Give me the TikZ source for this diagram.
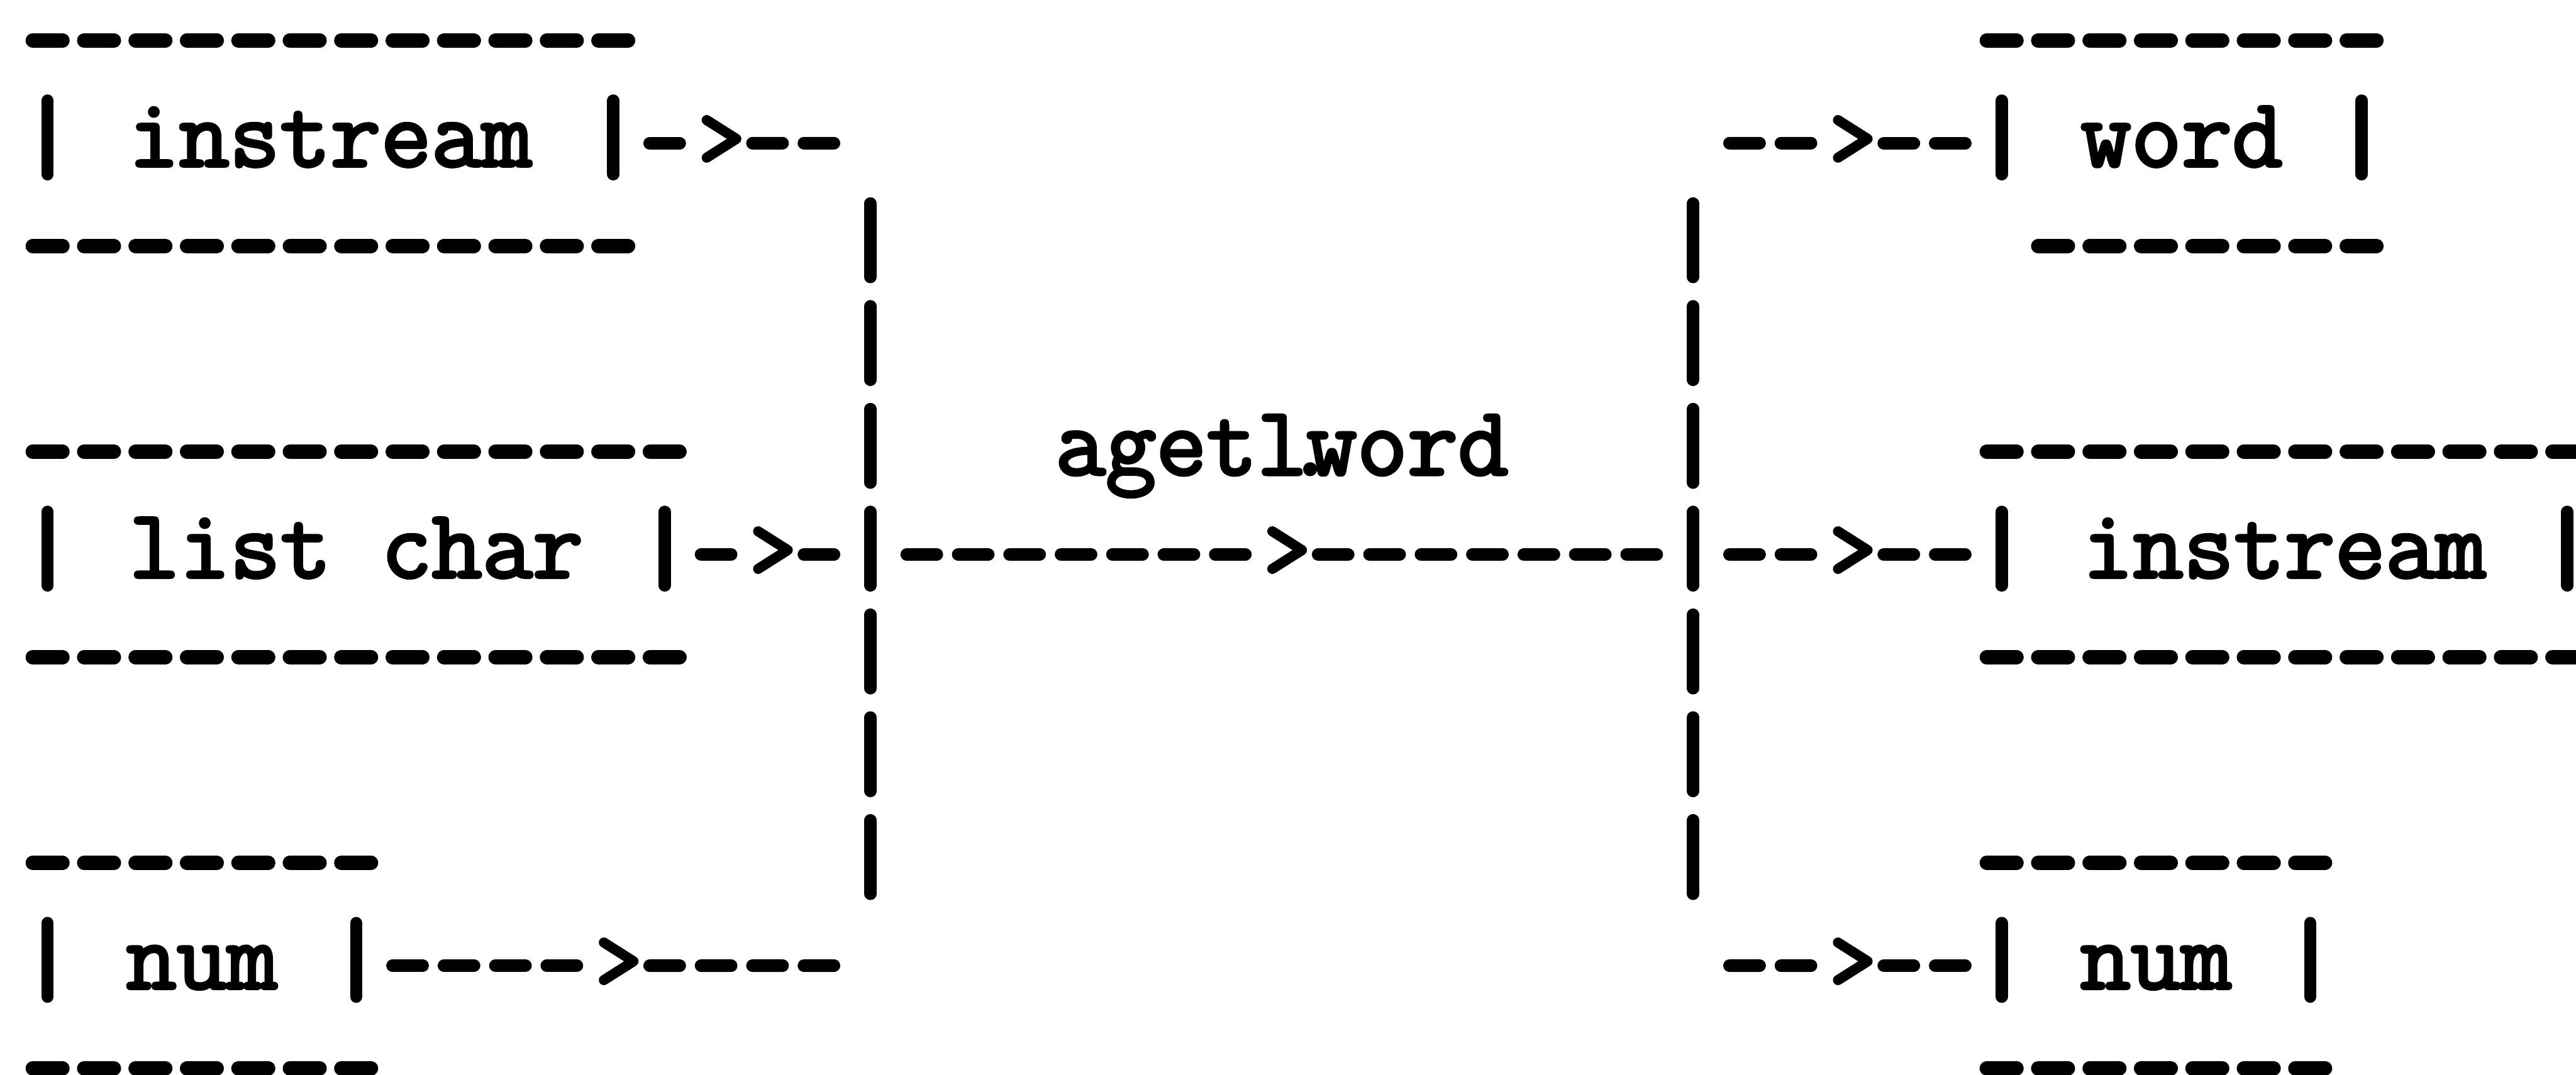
\documentclass[tikz,border=0pt]{standalone}
\usepackage{fontspec}
\usepackage{tikz}
\newfontfamily\boxfont[FakeBold=3]{Latin Modern Mono}

\tikzset{
  asciibox/.style={font=\boxfont\fontsize{27.1pt}{30pt}\selectfont, inner sep=0pt, outer sep=0pt,
    minimum height=2cm, text height=.45cm, text depth=0pt},
  border/.style={line width=3.9pt, line cap=round, dash pattern=on .292cm off .208cm,
    shorten <=-.146cm, shorten >=-.146cm},
  wire/.style={line width=3.5pt, line cap=round, dash pattern=on .292cm off .208cm,
    shorten <=.354cm, shorten >=.354cm},
  vbar/.pic={\draw[line width=3.4pt, line cap=round] (0pt,11.8pt) -- (0pt,-8.6pt);},
  chev/.pic={\draw[line width=2.8pt, line cap=round, line join=round] (-2.6pt,6.4pt) -- (5.6pt,1.2pt) -- (-2.6pt,-4pt);}
}

\begin{document}
\begin{tikzpicture}[x=0.5cm, y=-1cm]
    \useasboundingbox (-0.926,-0.393) rectangle (49.17,10.06);
        %In and out boxes
    \foreach \name/\c/\r/\w/\txt in {src-stream/5.5/1/11/instream, src-list/6/5/12/list char,
        src-num/3/9/6/num, dst-word/41.5/1/7/word, dst-stream/43.5/5/11/instream, dst-num/41/9/6/num}
    \node[asciibox, minimum width=\w*0.5cm] (\name) at (\c,\r) {\txt};
        %Function frame and its name
    \node[inner sep=0pt, outer sep=0pt, minimum width=8cm, minimum height=8cm] (fn) at (24,5) {};
    \node[asciibox] (fn-name) at (24,4) {agetl\kern-.231em.\kern-.294em word};
        %Box edges
    \foreach \name/\s in {src-stream/0, src-list/0, src-num/0, dst-word/1, dst-stream/0, dst-num/0}
    {
        \draw[border] (\name.north west) -- (\name.north east);
        \draw[border] ([xshift=\s*0.5cm]\name.south west) -- (\name.south east);
        \pic at (\name.west) {vbar};
        \pic at (\name.east) {vbar};
    }
        %Frame sides
    \foreach \r in {2,...,8}
    {
        \pic at (16,\r) {vbar};
        \pic at (32,\r) {vbar};
    }
        %Wires, > in between
    \foreach \a/\kx/\ky/\b in {src-stream.east/13/1/fn.north west, src-list.east/14/5/fn.west,
        src-num.east/11/9/fn.south west, fn.west/24/5/fn.east, fn.north east/35/1/dst-word.west,
        fn.east/35/5/dst-stream.west, fn.south east/35/9/dst-num.west}
    {
        \draw[wire] (\a) -- (\kx,\ky);
        \draw[wire] (\kx,\ky) -- (\b);
        \pic at (\kx,\ky) {chev};
    }
\end{tikzpicture}
\end{document}
